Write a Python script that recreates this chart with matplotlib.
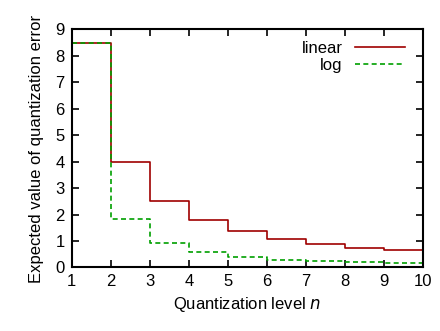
import matplotlib
matplotlib.use("Agg")
import matplotlib.pyplot as plt

n_levels = [1, 2, 3, 4, 5, 6, 7, 8, 9]
linear_err = [8.50, 3.98, 2.51, 1.79, 1.36, 1.07, 0.90, 0.74, 0.66]
log_err = [8.50, 1.83, 0.91, 0.58, 0.40, 0.30, 0.26, 0.21, 0.16]
x_ticks = [1, 2, 3, 4, 5, 6, 7, 8, 9, 10]
y_ticks = [0, 1, 2, 3, 4, 5, 6, 7, 8, 9]

plt.rcParams['font.family'] = ['Liberation Sans', 'DejaVu Sans']
fs = 12

fig = plt.figure(figsize=(4.4, 3.31), dpi=100)
ax = fig.add_axes([0.163, 0.192, 0.798, 0.719])

xs = n_levels + [10]
ax.step(xs, linear_err + [linear_err[-1]], where='post', color='#a00000', lw=1.2, label='linear')
ax.step(xs, log_err + [log_err[-1]], where='post', color='#00a000', lw=1.2, ls=(0, (3, 2)), label='log')

ax.set_xlim(1, 10)
ax.set_ylim(0, 9)
ax.set_xticks(x_ticks)
ax.set_yticks(y_ticks)
ax.tick_params(direction='in', top=True, right=True, length=5, width=1.2, labelsize=fs, pad=5)
for s in ax.spines.values():
    s.set_linewidth(1.5)

ax.set_xlabel('Quantization level $n$', fontsize=fs, labelpad=4)
ax.set_ylabel('Expected value of quantization error', fontsize=fs, labelpad=8)

leg = ax.legend(loc='upper right', frameon=False, markerfirst=False, handlelength=3.0,
                handletextpad=0.7, labelspacing=0.1, borderaxespad=0.3,
                bbox_to_anchor=(0.981, 1.0), fontsize=fs)
for t in leg.get_texts():
    t.set_ha('right')

fig.savefig('out.png', dpi=100)
